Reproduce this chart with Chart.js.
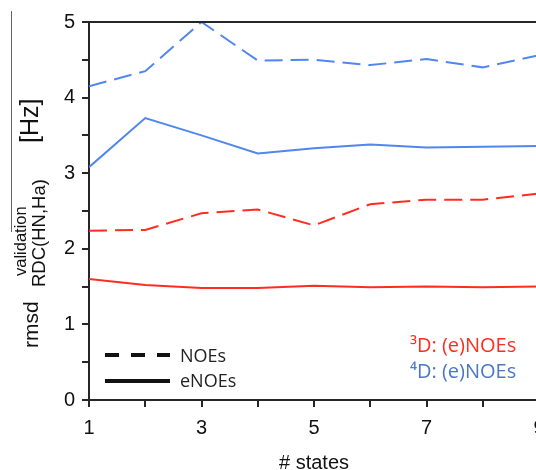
<!DOCTYPE html>
<html>
<head>
<meta charset="utf-8">
<script src="https://cdn.jsdelivr.net/npm/chart.js@4"></script>
<style>
  html, body { margin: 0; padding: 0; background: #fff; overflow: hidden; }
  #wrap { width: 560px; height: 470px; }
</style>
</head>
<body>
<div id="wrap"><canvas id="rmsdChart" width="560" height="470"></canvas></div>
<script>
// number of states on the x axis
const states = [1, 2, 3, 4, 5, 6, 7, 8, 9];
// rmsd values (Hz)
const noes4D  = [4.15, 4.35, 5.00, 4.49, 4.50, 4.43, 4.51, 4.40, 4.56];
const enoes4D = [3.08, 3.73, 3.50, 3.26, 3.33, 3.38, 3.34, 3.35, 3.36];
const noes3D  = [2.24, 2.25, 2.47, 2.52, 2.31, 2.59, 2.65, 2.65, 2.73];
const enoes3D = [1.60, 1.52, 1.48, 1.48, 1.51, 1.49, 1.50, 1.49, 1.50];

const blue = '#4f87ee';
const red = '#ff2d20';
const axisColor = '#262626';
const tickFont = { family: '"Liberation Sans Narrow", "Liberation Sans", Arial, sans-serif', size: 20 };

function pts(values) {
    return states.map((s, i) => ({ x: s, y: values[i] }));
}

const extras = {
    id: 'extras',
    afterDraw(chart) {
        const ctx = chart.ctx;
        const area = chart.chartArea;
        ctx.save();

        // top frame line
        ctx.strokeStyle = axisColor;
        ctx.lineWidth = 2;
        ctx.beginPath();
        ctx.moveTo(area.left, area.top);
        ctx.lineTo(area.right, area.top);
        ctx.stroke();

        // stray vertical rule at the left edge
        ctx.strokeStyle = '#666';
        ctx.lineWidth = 1;
        ctx.beginPath();
        ctx.moveTo(11.5, 11);
        ctx.lineTo(11.5, 232);
        ctx.stroke();

        // rotated y axis title
        const sans = '"Liberation Sans", Arial, sans-serif';
        ctx.fillStyle = '#111';
        ctx.textAlign = 'left';
        ctx.textBaseline = 'alphabetic';
        const rot = (text, x, y, size) => {
            ctx.save();
            ctx.translate(x, y);
            ctx.rotate(-Math.PI / 2);
            ctx.font = size + 'px ' + sans;
            ctx.fillText(text, 0, 0);
            ctx.restore();
        };
        rot('rmsd', 38, 348, 21);
        rot('validation', 26, 276, 16.5);
        rot('RDC(HN,Ha)', 45, 287, 18.5);
        rot('[Hz]', 38, 143, 25);

        // line style key
        ctx.strokeStyle = '#111';
        ctx.lineWidth = 4;
        ctx.setLineDash([14, 12]);
        ctx.beginPath();
        ctx.moveTo(105, 355);
        ctx.lineTo(170, 355);
        ctx.stroke();
        ctx.setLineDash([]);
        ctx.beginPath();
        ctx.moveTo(105, 381);
        ctx.lineTo(170, 381);
        ctx.stroke();

        ctx.font = '18px "Open Sans", sans-serif';
        ctx.fillStyle = '#222';
        ctx.fillText('NOEs', 180, 362);
        ctx.fillText('eNOEs', 180, 387);

        // colour key
        ctx.font = '20px "Open Sans", sans-serif';
        ctx.fillStyle = red;
        ctx.fillText('³D: (e)NOEs', 410, 352);
        ctx.fillStyle = '#4a78c8';
        ctx.fillText('⁴D: (e)NOEs', 410, 378);

        ctx.restore();
    }
};

new Chart(document.getElementById('rmsdChart'), {
    type: 'line',
    data: {
        datasets: [
            { data: pts(noes4D), borderColor: blue, borderDash: [18, 8] },
            { data: pts(enoes4D), borderColor: blue },
            { data: pts(noes3D), borderColor: red, borderDash: [18, 8] },
            { data: pts(enoes3D), borderColor: red }
        ]
    },
    options: {
        responsive: false,
        animation: false,
        layout: { padding: { top: 22, right: 21, left: 0, bottom: 0 } },
        elements: {
            line: { borderWidth: 2, tension: 0, fill: false },
            point: { radius: 0 }
        },
        scales: {
            x: {
                type: 'linear',
                min: 1,
                max: 9,
                border: { display: true, color: axisColor, width: 2 },
                grid: { drawOnChartArea: false, drawTicks: true, tickLength: 7, color: axisColor, lineWidth: 2 },
                ticks: {
                    stepSize: 1,
                    color: '#111',
                    font: tickFont,
                    padding: 9,
                    maxRotation: 0,
                    autoSkip: false,
                    callback: v => (v % 2 === 1 ? String(v) : '')
                },
                title: {
                    display: true,
                    text: '# states',
                    color: '#111',
                    font: tickFont,
                    padding: { top: 0, bottom: -5 }
                },
                afterFit: s => { s.height = 70; }
            },
            y: {
                min: 0,
                max: 5,
                border: { display: true, color: axisColor, width: 2 },
                grid: { drawOnChartArea: false, drawTicks: true, tickLength: 7, color: axisColor, lineWidth: 2 },
                ticks: {
                    stepSize: 0.5,
                    color: '#111',
                    font: tickFont,
                    padding: 7,
                    callback: v => (Number.isInteger(v) ? String(v) : '')
                },
                afterFit: s => { s.width = 89; }
            }
        },
        plugins: {
            legend: { display: false },
            tooltip: { enabled: false }
        }
    },
    plugins: [extras]
});
</script>
</body>
</html>
